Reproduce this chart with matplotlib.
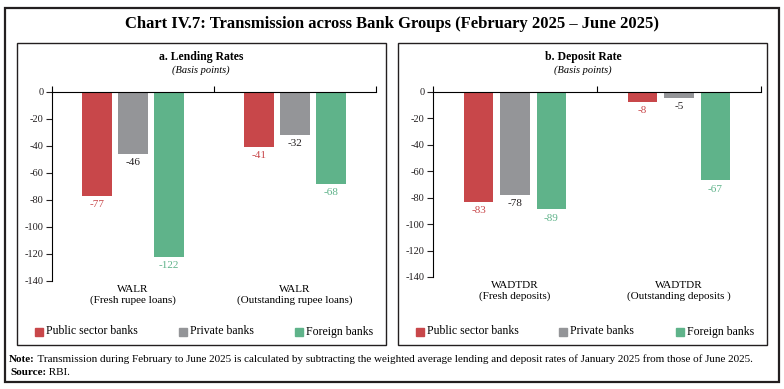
"""
Chart IV.7: Transmission across Bank Groups (February 2025 - June 2025)
"""

import numpy as np
import matplotlib
matplotlib.use("Agg")
import matplotlib.pyplot as plt
from matplotlib.patches import Rectangle
from matplotlib.text import Annotation

plt.rcParams["font.family"] = ["Liberation Serif", "DejaVu Serif"]
plt.rcParams["axes.unicode_minus"] = False

# ── 数据 ──────────────────────────────────────────────
GROUPS = ["Public sector banks", "Private banks", "Foreign banks"]
COLORS = ["#C8474A", "#949598", "#5FB38A"]
LABEL_COLORS = ["#C8474A", "#231F20", "#5FB38A"]

LENDING_CATS = ["WALR\n(Fresh rupee loans)", "WALR\n(Outstanding rupee loans)"]
LENDING_PSB = [-77, -41]
LENDING_PVT = [-46, -32]
LENDING_FB = [-122, -68]

DEPOSIT_CATS = ["WADTDR\n(Fresh deposits)", "WADTDR\n(Outstanding deposits )"]
DEPOSIT_PSB = [-83, -8]
DEPOSIT_PVT = [-78, -5]
DEPOSIT_FB = [-89, -67]

YTICKS = [0, -20, -40, -60, -80, -100, -120, -140]

W, H = 784, 389


def fx(x):
    return x / W


def fy(y):
    return 1 - y / H


def box(fig, x0, y0, x1, y1, lw):
    fig.add_artist(Rectangle((fx(x0), fy(y1)), fx(x1) - fx(x0), fy(y0) - fy(y1),
                             transform=fig.transFigure, fill=False,
                             edgecolor="#231F20", linewidth=lw))


def plot_panel(ax, cats, series):
    x = np.arange(len(cats))
    offsets = [-0.222, 0.0, 0.222]
    for vals, off, c, lc in zip(series, offsets, COLORS, LABEL_COLORS):
        ax.bar(x + off, vals, width=0.18, color=c)
        for xi, v in zip(x + off, vals):
            ax.annotate(f"{v}", xy=(xi, v), xytext=(0, -3), textcoords="offset points",
                        ha="center", va="top", fontsize=8, color=lc)

    ax.set_xlim(-0.5, len(cats) - 0.5)
    ax.set_ylim(YTICKS[-1], YTICKS[0])
    ax.set_yticks(YTICKS)
    ax.tick_params(axis="y", direction="out", length=4, width=0.8,
                   labelsize=7.5, pad=2, colors="#231F20")
    ax.xaxis.tick_top()
    ax.set_xticks(np.arange(len(cats) + 1) - 0.5)
    ax.set_xticklabels([])
    ax.tick_params(axis="x", direction="out", length=4, width=0.8)
    for s in ["right", "bottom"]:
        ax.spines[s].set_visible(False)
    for s in ["left", "top"]:
        ax.spines[s].set_linewidth(0.8)

    for i, c in enumerate(cats):
        ax.annotate(c, xy=(i, 0), xycoords=("data", "axes fraction"),
                    xytext=(0, -3), textcoords="offset points",
                    ha="center", va="top", fontsize=8, linespacing=1.2)


def legend_row(fig, xs, y):
    for x, g, c in zip(xs, GROUPS, COLORS):
        fig.add_artist(Rectangle((fx(x), fy(y + 4)), fx(8), 8 / H,
                                 transform=fig.transFigure, color=c))
        fig.text(fx(x + 11), fy(y), g, ha="left", va="center", fontsize=8.5)


def main():
    fig = plt.figure(figsize=(W / 100, H / 100), dpi=100)

    # 外框
    box(fig, 4.5, 8, 779, 382, 1.6)
    box(fig, 17, 42.5, 386, 345, 1.0)
    box(fig, 398, 42.5, 767, 345, 1.0)

    fig.text(fx(392), fy(24), "Chart IV.7: Transmission across Bank Groups (February 2025 \u2013 June 2025)",
             ha="center", va="center", fontsize=12, fontweight="bold")

    ax_a = fig.add_axes([fx(52), fy(281), fx(376) - fx(52), fy(91.7) - fy(281)])
    ax_b = fig.add_axes([fx(433), fy(277), fx(761) - fx(433), fy(91.7) - fy(277)])

    plot_panel(ax_a, LENDING_CATS, [LENDING_PSB, LENDING_PVT, LENDING_FB])
    plot_panel(ax_b, DEPOSIT_CATS, [DEPOSIT_PSB, DEPOSIT_PVT, DEPOSIT_FB])

    for cx, title in [(201, "a. Lending Rates"), (583, "b. Deposit Rate")]:
        fig.text(fx(cx), fy(57), title, ha="center", va="center",
                 fontsize=8.5, fontweight="bold")
        fig.text(fx(cx), fy(70), "(Basis points)", ha="center", va="center",
                 fontsize=7.5, fontstyle="italic")

    legend_row(fig, [35, 179, 295], 331.5)
    legend_row(fig, [416, 559, 676], 331.5)

    # 注释
    note = fig.text(fx(9), fy(362), "Note:", ha="left", va="baseline",
                    fontsize=8, fontweight="bold")
    fig.add_artist(Annotation(
        " Transmission during February to June 2025 is calculated by subtracting the weighted "
        "average lending and deposit rates of January 2025 from those of June 2025.",
        xy=(1, 0), xycoords=note, ha="left", va="bottom", fontsize=8))
    src = fig.text(fx(10), fy(375), "Source:", ha="left", va="baseline",
                   fontsize=8, fontweight="bold")
    fig.add_artist(Annotation(" RBI.", xy=(1, 0), xycoords=src,
                              ha="left", va="bottom", fontsize=8))

    fig.savefig("out.png", dpi=100)


if __name__ == "__main__":
    main()
